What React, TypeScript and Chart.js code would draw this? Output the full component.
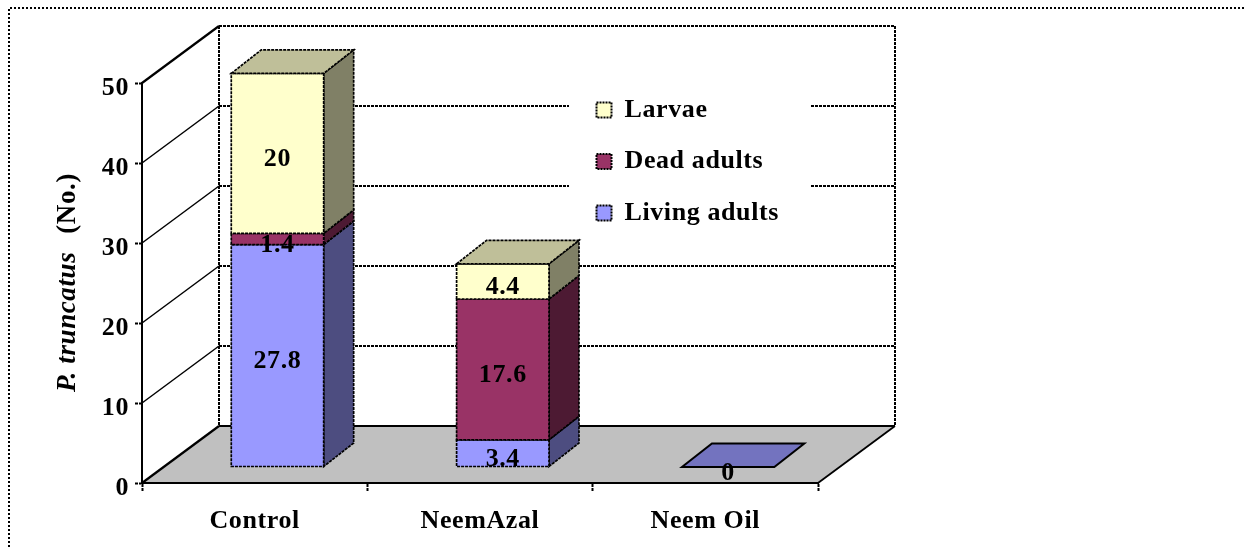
import React, { useEffect, useRef } from "react";
import { Chart, registerables } from "chart.js";

Chart.register(...registerables);

const categories = ["Control", "NeemAzal", "Neem Oil"];
const livingAdults = [27.8, 3.4, 0];
const deadAdults = [1.4, 17.6, 0];
const larvae = [20, 4.4, 0];
const yTicks = [0, 10, 20, 30, 40, 50];

const FONT = '"Liberation Serif", "Times New Roman", serif';
const FS = 26;
const TITLE_FS = 27;
const DASH = [3, 1];

// chart depth (floor/walls) and the bars' position in it
const WALL_DX = 77;
const WALL_DY = -57;
const BAR_OX = 22.8;
const BAR_OY = -16;
const BAR_DX = 30;
const BAR_DY = -23.5;

const LEGEND_PLACE = { left: 571, top: 71.5 };
const LEGEND_GAP = { left: 569, right: 811, top: 88, bottom: 232 };

function shade(ctx: CanvasRenderingContext2D, pts: number[][], fill: string, dash: number[], lw: number) {
  ctx.save();
  ctx.beginPath();
  pts.forEach((p, i) => (i ? ctx.lineTo(p[0], p[1]) : ctx.moveTo(p[0], p[1])));
  ctx.closePath();
  ctx.fillStyle = fill;
  ctx.fill();
  if (lw > 0) {
    ctx.setLineDash(dash);
    ctx.lineWidth = lw;
    ctx.strokeStyle = "#000";
    ctx.stroke();
  }
  ctx.restore();
}

function line(ctx: CanvasRenderingContext2D, pts: number[][], lw: number, dash: number[]) {
  ctx.save();
  ctx.beginPath();
  pts.forEach((p, i) => (i ? ctx.lineTo(p[0], p[1]) : ctx.moveTo(p[0], p[1])));
  ctx.setLineDash(dash);
  ctx.lineWidth = lw;
  ctx.strokeStyle = "#000";
  ctx.stroke();
  ctx.restore();
}

const shape3d = {
  id: "shape3d",
  afterLayout(chart: any) {
    const legend = chart.legend;
    if (legend) {
      legend.left = LEGEND_PLACE.left;
      legend.top = LEGEND_PLACE.top;
      legend.right = legend.left + 300;
      legend.bottom = legend.top + 200;
      legend.adjustHitBoxes();
    }
  },
  beforeDraw(chart: any) {
    const ctx = chart.ctx as CanvasRenderingContext2D;
    (ctx as any).letterSpacing = "0.6px";
    const { left, right, bottom, top } = chart.chartArea;
    const y = chart.scales.y;

    // outer dotted frame
    line(ctx, [[9, 547], [9, 8], [1244, 8]], 2, [2, 2]);

    // nudge tick labels to sit where the reference has them
    if (!y.$moved) {
      y.getLabelItems(chart.chartArea).forEach((it: any) => {
        it.options.translation[1] += 5.5;
      });
      y.$moved = true;
    }

    // floor
    shade(
      ctx,
      [[left, bottom], [left + WALL_DX, bottom + WALL_DY], [right + WALL_DX, bottom + WALL_DY], [right, bottom]],
      "#C0C0C0",
      [],
      0
    );
    // walls and gridlines
    y.ticks.forEach((t: any) => {
      const py = y.getPixelForValue(t.value);
      const isEnd = t.value === 0 || t.value === 50;
      line(ctx, [[left, py], [left + WALL_DX, py + WALL_DY]], isEnd ? 2.2 : 1.5, []);
      line(ctx, [[left + WALL_DX, py + WALL_DY], [right + WALL_DX, py + WALL_DY]], 2, t.value === 0 ? [] : DASH);
    });
    line(ctx, [[left + WALL_DX, top + WALL_DY], [left + WALL_DX, bottom + WALL_DY]], 2, DASH);
    line(ctx, [[right + WALL_DX, top + WALL_DY], [right + WALL_DX, bottom + WALL_DY]], 2, DASH);
    line(ctx, [[right, bottom], [right + WALL_DX, bottom + WALL_DY]], 1.8, []);

    // gap the legend leaves in the gridlines
    ctx.save();
    ctx.fillStyle = "#fff";
    ctx.fillRect(LEGEND_GAP.left, LEGEND_GAP.top, LEGEND_GAP.right - LEGEND_GAP.left, LEGEND_GAP.bottom - LEGEND_GAP.top);
    ctx.restore();

    // y axis title, two font styles
    ctx.save();
    ctx.translate(75, 392);
    ctx.rotate(-Math.PI / 2);
    ctx.fillStyle = "#000";
    ctx.textAlign = "left";
    ctx.textBaseline = "alphabetic";
    ctx.font = `italic bold ${TITLE_FS}px ${FONT}`;
    const first = "P. truncatus";
    ctx.fillText(first, 0, 0);
    const w = ctx.measureText(first).width;
    ctx.font = `bold ${TITLE_FS}px ${FONT}`;
    ctx.fillText("(No.)", w + 18, 0);
    ctx.restore();
  },
  beforeDatasetsDraw(chart: any) {
    chart.ctx.save();
    chart.ctx.translate(BAR_OX, BAR_OY);
  },
  afterDatasetsDraw(chart: any) {
    const ctx = chart.ctx as CanvasRenderingContext2D;
    ctx.restore();
    const sets = chart.data.datasets;
    categories.forEach((_, i) => {
      let topSet = 0;
      sets.forEach((d: any, k: number) => {
        if (d.data[i] > 0) topSet = k;
      });
      sets.forEach((d: any, k: number) => {
        const el = chart.getDatasetMeta(k).data[i];
        const l = el.x - el.width / 2 + BAR_OX;
        const r = el.x + el.width / 2 + BAR_OX;
        const t = el.y + BAR_OY;
        const b = el.base + BAR_OY;
        if (d.data[i] > 0) {
          shade(ctx, [[r, t], [r + BAR_DX, t + BAR_DY], [r + BAR_DX, b + BAR_DY], [r, b]], d.sideColor, DASH, 1.7);
          shade(ctx, [[l, t], [r, t], [r, b], [l, b]], d.backgroundColor, DASH, 1.7);
        }
        if (k === topSet) {
          const flat = d.data[i] === 0;
          shade(ctx, [[l, t], [l + BAR_DX, t + BAR_DY], [r + BAR_DX, t + BAR_DY], [r, t]], d.topColor, flat ? [] : DASH, flat ? 2 : 1.7);
        }
      });
    });
    // value labels
    ctx.save();
    ctx.fillStyle = "#000";
    ctx.font = `bold ${FS}px ${FONT}`;
    ctx.textAlign = "center";
    ctx.textBaseline = "alphabetic";
    sets.forEach((d: any, k: number) => {
      d.data.forEach((v: number, i: number) => {
        if (v === 0 && k > 0) return;
        const el = chart.getDatasetMeta(k).data[i];
        ctx.fillText(String(v), el.x + BAR_OX, (el.y + el.base) / 2 + BAR_OY + 12.5);
      });
    });
    ctx.restore();
  },
};

export default function App() {
  const ref = useRef<HTMLCanvasElement | null>(null);
  useEffect(() => {
    if (!ref.current) return;
    const mk = (label: string, data: number[], backgroundColor: string, sideColor: string, topColor: string) =>
      ({ label, data, backgroundColor, sideColor, topColor, borderWidth: 0, barPercentage: 0.41, categoryPercentage: 1 } as any);
    const chart = new Chart(ref.current, {
      type: "bar",
      data: {
        labels: categories,
        datasets: [
          mk("Living adults", livingAdults, "#9999FF", "#4D4D80", "#7373BF"),
          mk("Dead adults", deadAdults, "#993366", "#4D1A33", "#73264D"),
          mk("Larvae", larvae, "#FFFFCC", "#808066", "#BFBF99"),
        ],
      },
      plugins: [shape3d as any],
      options: {
        responsive: false,
        animation: false,
        layout: { autoPadding: false, padding: { left: 0, top: 83, right: 426, bottom: 0 } },
        plugins: {
          title: { display: false },
          tooltip: { enabled: false },
          legend: {
            display: true,
            position: "chartArea" as any,
            align: "start",
            reverse: true,
            labels: {
              boxWidth: 15,
              boxHeight: 15,
              padding: 25.5,
              color: "#000",
              font: { family: FONT, size: FS, weight: "bold" },
              generateLabels: (c: any) =>
                c.data.datasets.map((d: any, i: number) => ({
                  text: d.label,
                  fillStyle: d.backgroundColor,
                  strokeStyle: "#000",
                  lineWidth: 2,
                  lineDash: [2, 1],
                  datasetIndex: i,
                  fontColor: "#000",
                })),
            },
          },
        },
        scales: {
          x: {
            stacked: true,
            afterFit: (s: any) => {
              s.height = 64;
            },
            border: { display: true, color: "#000", width: 2, dash: DASH },
            grid: {
              drawOnChartArea: false,
              drawTicks: true,
              tickLength: 8,
              tickColor: "#000",
              tickWidth: 2,
              tickBorderDash: DASH,
            },
            ticks: {
              color: "#000",
              padding: 15,
              maxRotation: 0,
              font: { family: FONT, size: FS, weight: "bold" },
            },
          },
          y: {
            stacked: true,
            min: yTicks[0],
            max: yTicks[yTicks.length - 1],
            afterFit: (s: any) => {
              s.width = 142;
            },
            afterBuildTicks: (s: any) => {
              s.ticks = yTicks.map((value) => ({ value }));
            },
            border: { display: true, color: "#000", width: 2, dash: DASH },
            grid: {
              drawOnChartArea: false,
              drawTicks: true,
              tickLength: 7,
              tickColor: "#000",
              tickWidth: 2,
              tickBorderDash: DASH,
            },
            ticks: {
              color: "#000",
              padding: 6,
              font: { family: FONT, size: FS, weight: "bold" },
            },
          },
        },
      },
    });
    return () => chart.destroy();
  }, []);
  return (
    <canvas
      ref={ref}
      width={1244}
      height={547}
      style={{ position: "absolute", left: 0, top: 0, display: "block", width: 1244, height: 547 }}
    />
  );
}
